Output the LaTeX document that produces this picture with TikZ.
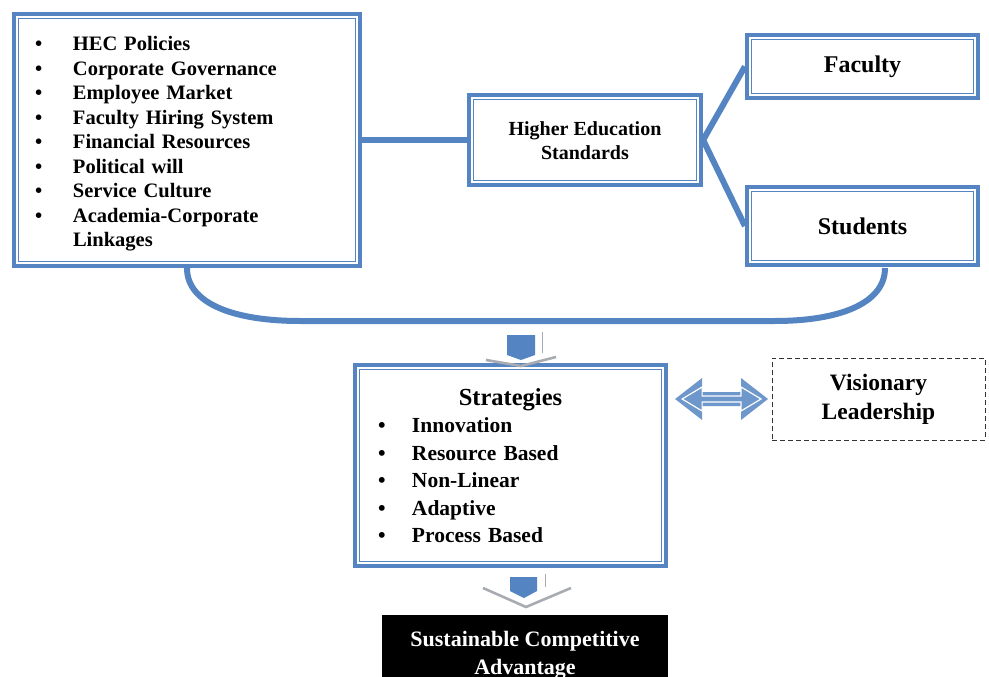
\documentclass[tikz,border=0pt]{standalone}
\usepackage{fontspec}
\setmainfont{Liberation Serif}
\usepackage{tikz}
\usetikzlibrary{calc}
\definecolor{eblue}{RGB}{84,133,194}
\definecolor{egrey}{RGB}{168,172,178}
\tikzset{box/.style = {draw=eblue, line width=4.2pt, inner sep=0pt, align=center},
         innerline/.style = {draw=eblue, line width=1.1pt},
         link/.style = {draw=eblue, line width=6pt},
         chevron/.style = {draw=egrey, line width=2.6pt},
         dashbox/.style = {draw=black!80, line width=1pt, dash pattern=on 5pt off 3pt,
                           inner sep=0pt, align=center}}
\newcommand{\fatarrow}[5]{(#1) -- ([shift={(#3pt,#4pt)}]#1) -- ([shift={(#3pt,#5pt)}]#1)
  -- ([shift={(-#3pt,#5pt)}]#2) -- ([shift={(-#3pt,#4pt)}]#2) -- (#2)
  -- ([shift={(-#3pt,-#4pt)}]#2) -- ([shift={(-#3pt,-#5pt)}]#2)
  -- ([shift={(#3pt,-#5pt)}]#1) -- ([shift={(#3pt,-#4pt)}]#1) -- cycle}
% pads the top of a box, so that its text sits a little lower
\newcommand{\padtop}[2]{\raisebox{0pt}[\dimexpr\height+#1\relax][\depth]{#2}}

\begin{document}
\begin{tikzpicture}[x=1pt, y=-1pt]
    \clip (0,0) rectangle (989,677);
    \fill[white] (0,0) rectangle (989,677);

    \node [box, minimum width=346, minimum height=252, inner xsep=21pt, text width=304pt,
           align=left, font=\bfseries\fontsize{20.5}{24.5}\selectfont] (factors) at (187,140)
          {\padtop{8pt}{\begin{tabular}{@{}p{38pt}@{}l@{}}
           \textbullet & HEC Policies\\
           \textbullet & Corporate Governance\\
           \textbullet & Employee Market\\
           \textbullet & Faculty Hiring System\\
           \textbullet & Financial Resources\\
           \textbullet & Political will\\
           \textbullet & Service Culture\\
           \textbullet & Academia-Corporate\\
                       & Linkages
           \end{tabular}}};
    \node [box, minimum width=232, minimum height=90,
           font=\bfseries\fontsize{20}{24}\selectfont] (hes) at (585,140)
          {\padtop{6pt}{\begin{tabular}{@{}c@{}}Higher Education\\Standards\end{tabular}}};
    \node [box, minimum width=231, minimum height=63,
           font=\bfseries\fontsize{24}{27}\selectfont] (faculty) at (862.5,66.5) {Faculty};
    \node [box, minimum width=231, minimum height=78,
           font=\bfseries\fontsize{24}{27}\selectfont] (students) at (862.5,226) {Students};
    \node [box, minimum width=311, minimum height=201, inner xsep=23pt, text width=265pt,
           align=left, font=\bfseries\fontsize{21.5}{27.5}\selectfont] (strat) at (510.5,465.5)
          {\padtop{6pt}{\begin{tabular}{@{}p{34pt}@{}l@{}}
           \multicolumn{2}{@{}c@{}}{\makebox[265pt]{\fontsize{24.5}{27.5}\selectfont Strategies}}\\
           \textbullet & Innovation\\
           \textbullet & Resource Based\\
           \textbullet & Non-Linear\\
           \textbullet & Adaptive\\
           \textbullet & Process Based
           \end{tabular}}};
    \node [dashbox, minimum width=213, minimum height=82,
           font=\bfseries\fontsize{23.5}{29}\selectfont] (vision) at (878.5,399)
          {Visionary\\Leadership};
    \node [fill=black, text=white, minimum width=286, minimum height=80, inner sep=0pt,
           align=center, font=\bfseries\fontsize{22}{28}\selectfont] (sca) at (525,655)
          {Sustainable Competitive\\Advantage};

    \foreach \n in {factors,hes,faculty,students,strat}
        \draw [innerline] ([shift={(7pt,-7pt)}]\n.north west)
            rectangle ([shift={(-7pt,7pt)}]\n.south east);

    \draw [link] (factors.east) -- (hes.west);
    \draw [link] (hes.east) -- (faculty.west);
    \draw [link] (hes.east) -- (students.west);

    \coordinate (lb) at (300,321);
    \coordinate (rb) at (775,321);
    \coordinate (sr) at (885,268);
    \draw [link] (factors.south) .. controls (187,304) and (235,321) .. (lb)
        -- (rb) .. controls (838,321) and (885,304) .. (sr);

    % block arrows
    \fill [eblue] (507,335) -- (535,335) -- (535,355) -- (521,360) -- (507,355) -- cycle;
    \draw [egrey, line width=0.8pt] (542,332) -- (542,353);
    \draw [chevron] (486,360) -- (521,366) -- (556,357);
    \fill [eblue] (510,577) -- (537,577) -- (537,591) -- (524,598) -- (510,591) -- cycle;
    \draw [egrey, line width=0.8pt] (545,574) -- (545,587);
    \draw [chevron] (483,588) -- (526,607) -- (571,588);

    \coordinate (la) at ([xshift=7pt]strat.east |- vision.west);
    \coordinate (ra) at ([xshift=-3.5pt]vision.west);
    \coordinate (la2) at ([xshift=7pt]la);
    \coordinate (ra2) at ([xshift=-7pt]ra);
    \fill [eblue!85] \fatarrow{la}{ra}{27}{21}{7};
    \draw [white, line width=1.2pt] \fatarrow{la2}{ra2}{20}{12}{3};
\end{tikzpicture}
\end{document}
